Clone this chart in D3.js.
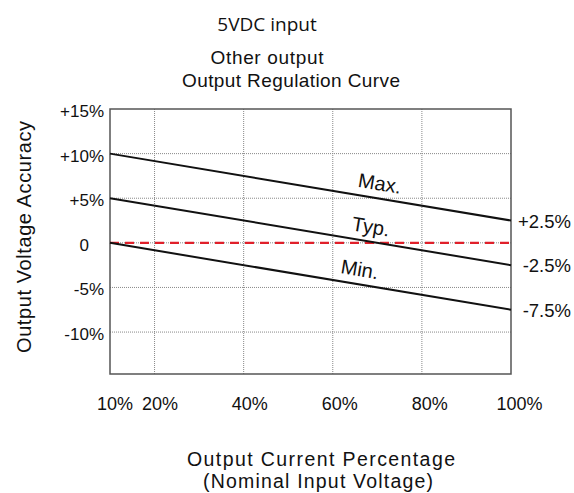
<!DOCTYPE html>
<html>
<head>
<meta charset="utf-8">
<script src="https://cdn.jsdelivr.net/npm/d3@7"></script>
<style>
  body { margin: 0; background: #fff; }
  text { font-family: "Open Sans", "DejaVu Sans", sans-serif; fill: #111; }
  .arial { font-family: "Liberation Sans", Arial, sans-serif; }
</style>
</head>
<body>
<svg id="chart" width="574" height="493"></svg>
<script>
// data
const xTicks = [10, 20, 40, 60, 80, 100];
const yTicks = [15, 10, 5, 0, -5, -10];
const yTickLabels = ['+15%', '+10%', '+5%', '0', '-5%', '-10%'];
const seriesNames = ['Max.', 'Typ.', 'Min.'];
const loadPoints = [10, 100];
const maxValues = [10, 2.5];
const typValues = [5, -2.5];
const minValues = [0, -7.5];
const endLabels = ['+2.5%', '-2.5%', '-7.5%'];
const nominalLine = [0, 0];

let svg = d3.select('#chart');

let plotLeft = 110, plotRight = 511, plotTop = 109, plotBottom = 374;

let x = d3.scaleLinear().domain([10, 100]).range([plotLeft, plotRight]);
let y = d3.scaleLinear().domain([-14.7, 15]).range([plotBottom, plotTop]);

// titles
svg.append('text').attr('x', 267).attr('y', 31).attr('text-anchor', 'middle')
    .attr('font-size', 19).text('5VDC input');
svg.append('text').attr('class', 'arial').attr('x', 267).attr('y', 64).attr('text-anchor', 'middle')
    .attr('font-size', 19).attr('textLength', 113).attr('lengthAdjust', 'spacing')
    .text('Other output');
svg.append('text').attr('class', 'arial').attr('x', 291).attr('y', 87).attr('text-anchor', 'middle')
    .attr('font-size', 19).attr('textLength', 218).attr('lengthAdjust', 'spacing')
    .text('Output Regulation Curve');

// grid
let grid = svg.append('g');
grid.selectAll('.vg').data(xTicks.filter(d => d > 10 && d < 100)).enter()
    .append('line')
    .attr('x1', d => x(d)).attr('x2', d => x(d))
    .attr('y1', plotTop).attr('y2', plotBottom)
    .attr('stroke', '#888').attr('stroke-width', 1).attr('stroke-dasharray', '1,1');
grid.selectAll('.hg').data(yTicks.filter(d => d < 15)).enter()
    .append('line')
    .attr('x1', plotLeft).attr('x2', plotRight)
    .attr('y1', d => y(d)).attr('y2', d => y(d))
    .attr('stroke', '#888').attr('stroke-width', 1).attr('stroke-dasharray', '1,1');

// frame
svg.append('rect')
    .attr('x', plotLeft).attr('y', plotTop)
    .attr('width', plotRight - plotLeft).attr('height', plotBottom - plotTop)
    .attr('fill', 'none').attr('stroke', '#555').attr('stroke-width', 1.5);

// y tick labels ("0" sits a bit further left in the original)
svg.append('g').selectAll('text').data(yTicks).enter()
    .append('text').attr('class', 'arial')
    .attr('x', d => d === 0 ? 89 : 104).attr('y', d => y(d) + 8)
    .attr('text-anchor', 'end').attr('font-size', 17)
    .text((d, i) => yTickLabels[i]);

// x tick labels
svg.append('g').selectAll('text').data(xTicks).enter()
    .append('text').attr('class', 'arial')
    .attr('x', d => x(d) + 5 + (d - 10) / 25).attr('y', 410)
    .attr('text-anchor', 'middle').attr('font-size', 18)
    .text(d => d + '%');

// axis titles
svg.append('text').attr('class', 'arial')
    .attr('transform', 'translate(31,237) rotate(-90)')
    .attr('text-anchor', 'middle').attr('font-size', 20)
    .attr('textLength', 232).attr('lengthAdjust', 'spacing')
    .text('Output Voltage Accuracy');
svg.append('text').attr('class', 'arial').attr('x', 321).attr('y', 466).attr('text-anchor', 'middle')
    .attr('font-size', 19.5).attr('textLength', 268).attr('lengthAdjust', 'spacing')
    .text('Output Current Percentage');
svg.append('text').attr('class', 'arial').attr('x', 318).attr('y', 488).attr('text-anchor', 'middle')
    .attr('font-size', 19.5).attr('textLength', 230).attr('lengthAdjust', 'spacing')
    .text('(Nominal Input Voltage)');

let line = d3.line()
    .x((d, i) => x(loadPoints[i]))
    .y(d => y(d));

// nominal 0 line
svg.append('path').datum(nominalLine)
    .attr('d', line).attr('fill', 'none')
    .attr('stroke', '#e0202a').attr('stroke-width', 2.2)
    .attr('stroke-dasharray', '9,6');

let series = [maxValues, typValues, minValues];
svg.append('g').selectAll('path').data(series).enter()
    .append('path')
    .attr('d', line).attr('fill', 'none')
    .attr('stroke', '#111').attr('stroke-width', 2);

// series labels along the lines
let angle = Math.atan2(y(maxValues[1]) - y(maxValues[0]), x(100) - x(10)) * 180 / Math.PI;
let labelAt = [70, 68, 65.5];
svg.append('g').selectAll('text').data(series).enter()
    .append('text').attr('class', 'arial')
    .attr('transform', (d, i) => {
        let lx = labelAt[i];
        let v = d[0] + (d[1] - d[0]) * (lx - 10) / 90;
        return 'translate(' + x(lx) + ',' + y(v) + ') rotate(' + angle + ')';
    })
    .attr('y', -8)
    .attr('text-anchor', 'middle').attr('font-size', 20)
    .text((d, i) => seriesNames[i]);

// end labels
svg.append('g').selectAll('text').data(series).enter()
    .append('text').attr('class', 'arial')
    .attr('x', 571).attr('y', d => y(d[1]) + 7)
    .attr('text-anchor', 'end').attr('font-size', 18.5)
    .text((d, i) => endLabels[i]);
</script>
</body>
</html>
